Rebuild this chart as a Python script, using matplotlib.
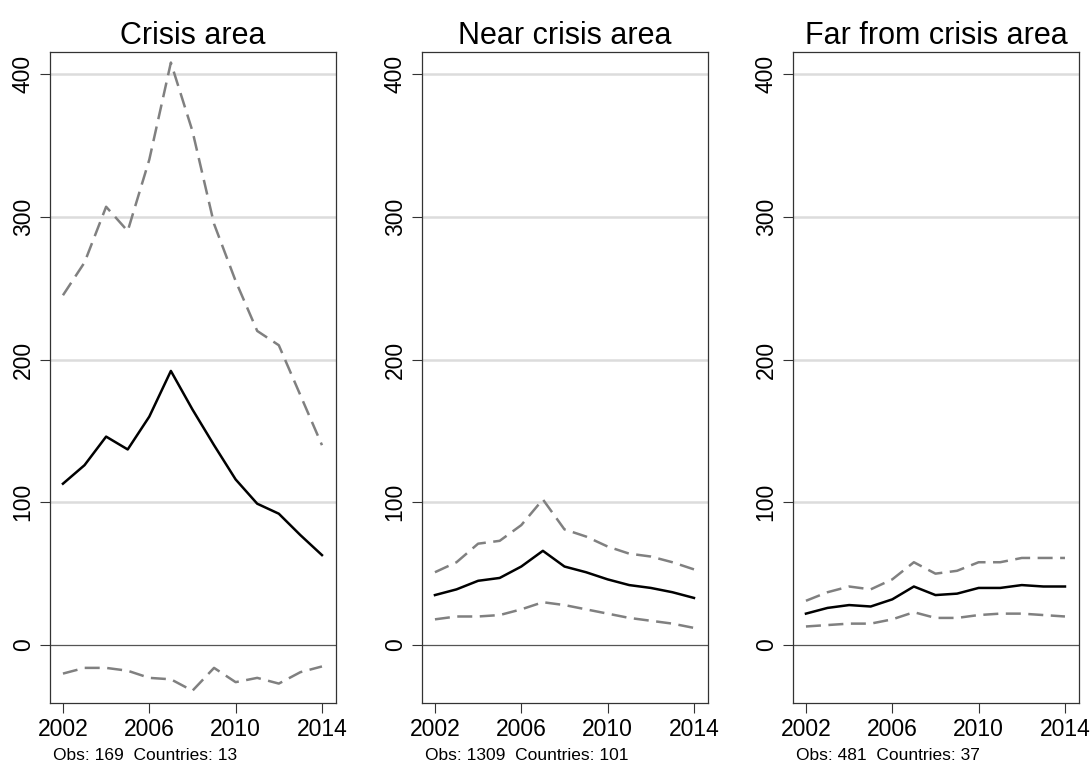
import matplotlib
matplotlib.use("Agg")
import matplotlib.pyplot as plt

plt.rcParams['font.family'] = ['Liberation Sans', 'DejaVu Sans']

years = list(range(2002, 2015))
titles = ["Crisis area", "Near crisis area", "Far from crisis area"]
notes = ["Obs: 169  Countries: 13", "Obs: 1309  Countries: 101", "Obs: 481  Countries: 37"]
mid = [
    [113,126,146,137,160,192,165,140,116,99,92,77,63],
    [35,39,45,47,55,66,55,51,46,42,40,37,33],
    [22,26,28,27,32,41,35,36,40,40,42,41,41],
]
upper = [
    [245,268,307,290,340,408,360,295,255,220,210,175,140],
    [51,58,71,73,84,102,81,76,69,64,62,58,53],
    [31,37,41,39,46,58,50,52,58,58,61,61,61],
]
lower = [
    [-20,-16,-16,-18,-23,-24,-32,-16,-26,-23,-27,-19,-15],
    [18,20,20,21,25,30,28,25,22,19,17,15,12],
    [13,14,15,15,18,23,19,19,21,22,22,21,20],
]

fig = plt.figure(figsize=(10.92, 7.65), dpi=100)
lefts = [50, 422, 793]
W, TOP, BOT = 286, 52, 703
for i in range(3):
    ax = fig.add_axes([lefts[i]/1092, 1-BOT/765, W/1092, (BOT-TOP)/765])
    for y in [100, 200, 300, 400]:
        ax.axhline(y, color="#dcdcdc", lw=1.8, zorder=0)
    ax.axhline(0, color="#555555", lw=0.9, zorder=1)
    ax.plot(years, upper[i], color="#808080", ls=(0, (6, 3)), lw=1.8)
    ax.plot(years, lower[i], color="#808080", ls=(0, (6, 3)), lw=1.8)
    ax.plot(years, mid[i], color="black", lw=1.8)
    ax.set_xlim(2001.4, 2014.65)
    ax.set_ylim(-40.6, 415.4)
    ax.set_xticks([2002, 2006, 2010, 2014])
    ax.set_yticks([0, 100, 200, 300, 400])
    for s in ax.spines.values():
        s.set_color("#333333")
        s.set_linewidth(0.9)
    ax.tick_params(axis="both", labelsize=16.5, length=7, color="#333333", pad=4)
    plt.setp(ax.get_yticklabels(), rotation=90, va="center")
    ax.set_title(titles[i], fontsize=22, pad=6)
    fig.text((lefts[i]+3)/1092, 1-755/765, notes[i], fontsize=12.5, va="center")

fig.savefig("out.png", dpi=100)
